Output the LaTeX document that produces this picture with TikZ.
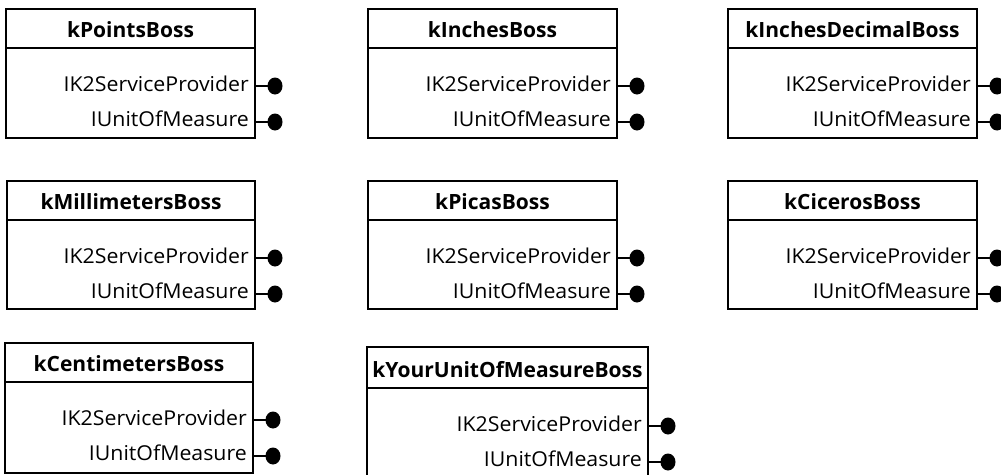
\documentclass[tikz,border=0pt]{standalone}
\usepackage{fontspec}
\setmainfont{Open Sans}
\newfontfamily\portfont[FakeStretch=1.04]{Open Sans}
\usetikzlibrary{shapes.geometric}

\tikzset{
  frame/.style={draw=black, line width=2.7pt, fill=white},
  rule/.style={draw=black, line width=2.7pt},
  titletext/.style={font=\fontsize{21}{22}\selectfont\bfseries, inner sep=0pt, anchor=base},
  porttext/.style={font=\portfont\fontsize{20.5}{22}\selectfont, inner sep=0pt, anchor=base east},
  plug/.style={ellipse, fill=black, minimum width=15pt, minimum height=17pt, inner sep=0pt},
  wire/.style={draw=black, line width=2.5pt},
}

% \bossbox{name}{left}{top}{right}{bottom}{title height}{title}
\newcommand\bossbox[7]{%
  \path[frame] (#2,#3) rectangle (#4,#5);
  \node[titletext] (#1-title) at ({(#2+#4)/2},{#3+#6-11}) {#7};
  \draw[rule] (#2,{#3+#6}) -- (#4,{#3+#6});
  \node[porttext] (#1-svc) at ({#4-6},{#3+#6+43}) {IK2ServiceProvider};
  \node[porttext] (#1-uom) at ({#4-6},{#3+#6+78}) {IUnitOfMeasure};
  \coordinate (#1-svcpin) at (#4,{#3+#6+38});
  \coordinate (#1-uompin) at (#4,{#3+#6+74});
  \node[plug] (#1-svcdot) at ({#4+20},{#3+#6+38}) {};
  \node[plug] (#1-uomdot) at ({#4+20},{#3+#6+74}) {};
  \draw[wire] (#1-svcpin) -- (#1-svcdot.center);
  \draw[wire] (#1-uompin) -- (#1-uomdot.center);
}

\begin{document}
\begin{tikzpicture}[x=1pt, y=-1pt]
  \useasboundingbox (0,0) rectangle (1001,474);
  \begin{scope}
    \clip (0,0) rectangle (1001,474);
    \bossbox{points}{6}{9}{255}{138}{39}{kPointsBoss}
    \bossbox{inches}{368}{9}{617}{138}{39}{kInchesBoss}
    \bossbox{decimal}{728}{9}{977}{138}{39}{kInchesDecimalBoss}
    \bossbox{mm}{7}{181}{255}{309}{39}{kMillimetersBoss}
    \bossbox{picas}{368}{181}{617}{309}{39}{kPicasBoss}
    \bossbox{ciceros}{728}{181}{977}{309}{39}{kCicerosBoss}
    \bossbox{cm}{5}{343}{253}{473}{39}{kCentimetersBoss}
    \bossbox{yours}{367}{347}{648}{485}{41}{kYourUnitOfMeasureBoss}
  \end{scope}
\end{tikzpicture}
\end{document}
